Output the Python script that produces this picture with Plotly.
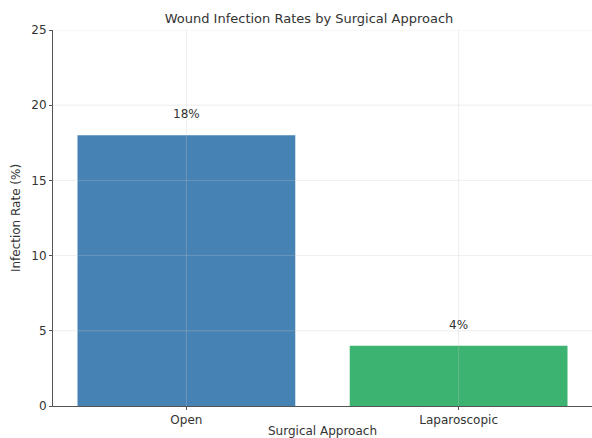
import plotly.graph_objects as go

categories = ["Open", "Laparoscopic"]
rates = [18, 4]
labels = ["18%", "4%"]
colors = ["#4682B4", "#3CB371"]
y_ticks = [0, 5, 10, 15, 20, 25]

fig = go.Figure()
fig.add_trace(go.Bar(x=categories, y=rates, marker=dict(color=colors, line=dict(width=0)),
                     width=0.8, showlegend=False))
for c, v, t in zip(categories, rates, labels):
    fig.add_annotation(x=c, y=v + 1, text=t, showarrow=False, yanchor="bottom", yshift=-3,
                       font=dict(size=12, color="#333333"))

grid_color = "rgba(200,200,200,0.3)"
for yv in y_ticks[1:]:
    fig.add_shape(type="line", xref="paper", yref="y", x0=0, x1=1, y0=yv, y1=yv,
                  line=dict(color=grid_color, width=1), layer="above")
for c in categories:
    fig.add_shape(type="line", xref="x", yref="paper", x0=c, x1=c, y0=0, y1=1,
                  line=dict(color=grid_color, width=1), layer="above")

fig.update_layout(
    width=592, height=438,
    margin=dict(l=53, r=0, t=30, b=30),
    paper_bgcolor="white", plot_bgcolor="white",
    font=dict(family="DejaVu Sans", size=12, color="#333333"),
    title=dict(text="Wound Infection Rates by Surgical Approach", x=0.522, xanchor="center",
               y=0.958, yanchor="middle", font=dict(size=13, color="#333333")),
)
fig.update_xaxes(range=[-0.49, 1.49], showline=True, linecolor="#555555", linewidth=1,
                 ticks="outside", ticklen=3, tickcolor="#555555", showgrid=False,
                 tickfont=dict(size=12),
                 title=dict(text="Surgical Approach", standoff=2, font=dict(size=12)))
fig.update_yaxes(range=[0, 25], tickvals=y_ticks, showline=True,
                 linecolor="#555555", linewidth=1, ticks="outside", ticklen=3, tickcolor="#555555",
                 showgrid=False, zeroline=False, tickfont=dict(size=12),
                 title=dict(text="Infection Rate (%)", standoff=8, font=dict(size=12)))
fig.write_html("out.html")
